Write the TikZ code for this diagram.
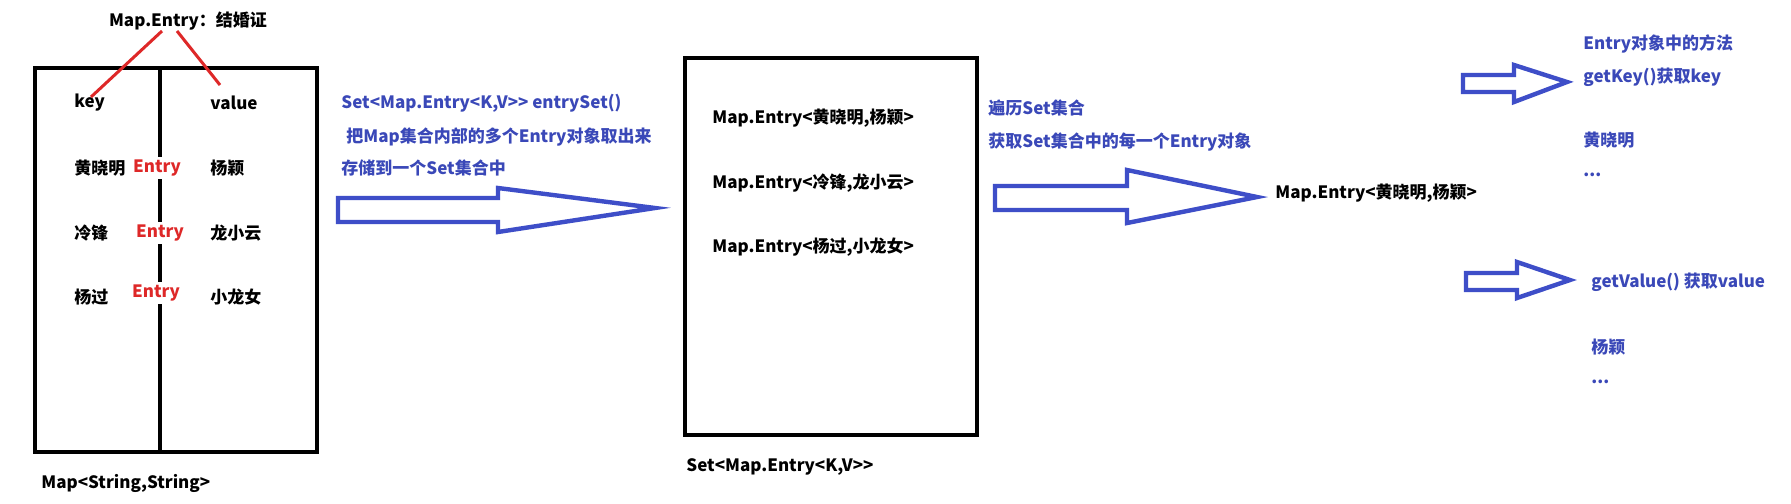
\documentclass[tikz,border=0pt]{standalone}
\usepackage{fontspec}
\setmainfont{Noto Sans CJK SC}
\definecolor{tblue}{RGB}{58,72,184}
\definecolor{ablue}{RGB}{62,78,200}
\definecolor{ered}{RGB}{222,40,40}
\begin{document}
\begin{tikzpicture}[x=0.5pt,y=-0.5pt,
  txt/.style={font=\bfseries\fontsize{8.5}{10}\selectfont, inner sep=0pt, anchor=west},
  btxt/.style={txt, text=tblue},
  rtxt/.style={font=\bfseries\fontsize{8.5}{10}\selectfont, text=ered, fill=white, inner sep=1.5pt, anchor=center},
  frame/.style={draw=black, line width=2pt},
  blockarrow/.style={draw=ablue, line width=2.2pt, line join=miter, fill=white},
  redline/.style={draw=ered, line width=1.5pt}]
\fill[white] (0,0) rectangle (1791,503);
% Map box
\draw[frame] (35,68) rectangle (317,452);
\draw[frame] (160,68) coordinate (dtop) -- (160,452) coordinate (dbot);
\node[txt, anchor=center] (title) at (188,21) {Map.Entry：结婚证};
\node[txt] (key) at (74,103) {key};
\node[txt] (value) at (210,103) {value};
\node[txt] (k1) at (74,168) {黄晓明};
\node[txt] (v1) at (210,168) {杨颖};
\node[txt] (k2) at (74,233) {冷锋};
\node[txt] (v2) at (210,233) {龙小云};
\node[txt] (k3) at (74,297) {杨过};
\node[txt] (v3) at (210,297) {小龙女};
\node[rtxt] (e1) at (157,168) {Entry};
\node[rtxt] (e2) at (160,233) {Entry};
\node[rtxt] (e3) at (156,293) {Entry};
\coordinate (r1s) at (162,31);
\coordinate (r1e) at (91,97);
\coordinate (r2s) at (177,31);
\coordinate (r2e) at (220,85);
\draw[redline] (r1s) -- (r1e);
\draw[redline] (r2s) -- (r2e);
\node[txt] (maplbl) at (41,483) {Map<String,String>};
% text 1
\node[btxt] (t1a) at (341,103) {Set<Map.Entry<K,V>{}> entrySet()};
\node[btxt] (t1b) at (346,137) {把Map集合内部的多个Entry对象取出来};
\node[btxt] (t1c) at (341,168) {存储到一个Set集合中};
\draw[blockarrow] (338,198) -- (498,198) -- (498,188) -- (655,208) -- (498,232) -- (498,222) -- (338,222) -- cycle;
% Set box
\draw[frame] (685,58) rectangle (977,435);
\node[txt] (s1) at (712,118) {Map.Entry<黄晓明,杨颖>};
\node[txt] (s2) at (712,183) {Map.Entry<冷锋,龙小云>};
\node[txt] (s3) at (712,247) {Map.Entry<杨过,小龙女>};
\node[txt] (setlbl) at (686,467) {Set<Map.Entry<K,V>{}>};
% text 2
\node[btxt] (t2a) at (988,108) {遍历Set集合};
\node[btxt] (t2b) at (988,142) {获取Set集合中的每一个Entry对象};
\draw[blockarrow] (995,186) -- (1127,186) -- (1127,170) -- (1257,197) -- (1127,223) -- (1127,210) -- (995,210) -- cycle;
\node[txt] (one) at (1275,193) {Map.Entry<黄晓明,杨颖>};
% right
\node[btxt] (m1) at (1583,44) {Entry对象中的方法};
\node[btxt] (m2) at (1583,77) {getKey()获取key};
\node[btxt] (m3) at (1583,140) {黄晓明};
\node[btxt] (m4) at (1583,175) {...};
\draw[blockarrow] (1463,75) -- (1514,75) -- (1514,65) -- (1567,82) -- (1514,102) -- (1514,92) -- (1463,92) -- cycle;
\draw[blockarrow] (1466,273) -- (1517,273) -- (1517,262) -- (1570,280) -- (1517,298) -- (1517,290) -- (1466,290) -- cycle;
\node[btxt] (n1) at (1591,282) {getValue() 获取value};
\node[btxt] (n2) at (1591,347) {杨颖};
\node[btxt] (n3) at (1591,382) {...};
\end{tikzpicture}
\end{document}
